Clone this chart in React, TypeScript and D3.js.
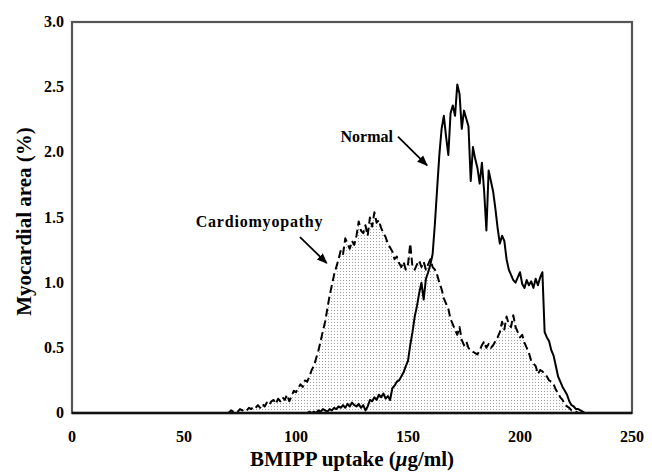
import React from "react";
import * as d3 from "d3";

// ---- data ----
const xTicks = [0, 50, 100, 150, 200, 250];
const yTicks = [0, 0.5, 1.0, 1.5, 2.0, 2.5, 3.0];
const yTickLabels = ["0", "0.5", "1.0", "1.5", "2.0", "2.5", "3.0"];

// Normal: values at uptake = normalStart + i (µg/ml), zero before
const normalStart = 105;
const normalValues = [
  0.0, 0.01, 0.0, 0.01, 0.0, 0.02, 0.01, 0.03, 0.02, 0.01,
  0.03, 0.02, 0.04, 0.03, 0.05, 0.04, 0.06, 0.04, 0.07, 0.05,
  0.08, 0.06, 0.05, 0.07, 0.04, 0.06, 0.02, 0.05, 0.1, 0.09,
  0.12, 0.1, 0.14, 0.12, 0.15, 0.11, 0.13, 0.1, 0.19, 0.21,
  0.24, 0.25, 0.28, 0.31, 0.36, 0.4, 0.52, 0.62, 0.74, 0.82,
  0.92, 1.0, 0.87, 1.03, 1.08, 1.14, 1.22, 1.45, 1.72, 1.98,
  2.18, 2.28, 2.12, 1.98, 2.3, 2.36, 2.28, 2.52, 2.45, 2.18,
  2.32, 2.26, 2.2, 1.78, 2.04, 1.95, 1.88, 1.76, 1.92, 1.7,
  1.4, 1.86, 1.78, 1.7, 1.57, 1.42, 1.3, 1.36, 1.32, 1.18,
  1.1, 1.06, 1.02, 1.0, 1.04, 1.08, 0.99, 0.96, 1.02, 0.98,
  1.01, 0.96, 1.03, 0.98, 1.04, 1.08, 0.62, 0.58, 0.55, 0.48,
  0.44, 0.36, 0.28, 0.24, 0.2, 0.17, 0.14, 0.09, 0.06, 0.05,
  0.03, 0.03, 0.02, 0.01, 0.0,
];

// Cardiomyopathy: values at uptake = cardioStart + i, zero before
const cardioStart = 68;
const cardioValues = [
  0.0, 0.01, 0.0, 0.02, 0.01, 0.02, 0.01, 0.03, 0.02, 0.03,
  0.02, 0.04, 0.03, 0.05, 0.04, 0.06, 0.04, 0.07, 0.05, 0.08,
  0.06, 0.09, 0.1, 0.07, 0.11, 0.09, 0.12, 0.1, 0.14, 0.09,
  0.13, 0.17, 0.16, 0.19, 0.22, 0.2, 0.25, 0.24, 0.28, 0.33,
  0.36, 0.42, 0.48, 0.55, 0.63, 0.7, 0.8, 0.9, 0.98, 1.06,
  1.12, 1.18, 1.25, 1.22, 1.34, 1.3, 1.26, 1.32, 1.29, 1.36,
  1.47, 1.4, 1.38, 1.44, 1.36, 1.5, 1.43, 1.54, 1.46, 1.48,
  1.42, 1.38, 1.35, 1.3, 1.27, 1.24, 1.18, 1.2, 1.15, 1.12,
  1.16, 1.1, 1.14, 1.3, 1.12, 1.1, 1.14, 1.17, 1.12, 1.16,
  1.1, 1.14, 1.18, 1.12, 1.1, 1.06, 1.0, 0.95, 0.88, 0.84,
  0.8, 0.72, 0.68, 0.64, 0.6, 0.66, 0.56, 0.52, 0.55, 0.5,
  0.48, 0.47, 0.46, 0.45, 0.48, 0.52, 0.55, 0.5, 0.53, 0.5,
  0.52, 0.55, 0.58, 0.62, 0.7, 0.64, 0.74, 0.68, 0.66, 0.75,
  0.66, 0.62, 0.58, 0.6, 0.54, 0.5, 0.46, 0.4, 0.38, 0.36,
  0.3, 0.33, 0.32, 0.3, 0.28, 0.25, 0.24, 0.22, 0.18, 0.15,
  0.12, 0.1, 0.07, 0.05, 0.04, 0.02, 0.02, 0.01, 0.0,
];

const W = 652;
const H = 473;
const M = { left: 72, right: 20, top: 22, bottom: 60 };
const FONT = '"Liberation Serif", "Times New Roman", serif';

function toPoints(start: number, vals: number[]): [number, number][] {
  const pts: [number, number][] = [[0, 0]];
  vals.forEach((v, i) => pts.push([start + i, v]));
  return pts;
}

export default function App() {
  const x = d3.scaleLinear().domain([0, 250]).range([M.left, W - M.right]);
  const y = d3.scaleLinear().domain([0, 3]).range([H - M.bottom, M.top]);

  const normalPts = toPoints(normalStart, normalValues);
  const cardioPts = toPoints(cardioStart, cardioValues);

  const line = d3
    .line<[number, number]>()
    .x((d) => x(d[0]))
    .y((d) => y(d[1]));
  const area = d3
    .area<[number, number]>()
    .x((d) => x(d[0]))
    .y0(y(0))
    .y1((d) => y(d[1]));

  const x0 = M.left;
  const x1 = W - M.right;
  const y0 = y(0);
  const y1 = M.top;

  return (
    <svg
      width={W}
      height={H}
      style={{ position: "absolute", left: 0, top: 0, background: "#fff" }}
      fontFamily={FONT}
    >
      <defs>
        <pattern id="stipple" width="3" height="3" patternUnits="userSpaceOnUse">
          <rect width="3" height="3" fill="#fff" />
          <rect x="1" y="1" width="1" height="1" fill="#a0a0a0" />
        </pattern>
        <marker
          id="arrow"
          viewBox="0 0 10 10"
          refX="9"
          refY="5"
          markerWidth="6"
          markerHeight="6"
          orient="auto"
        >
          <path d="M0,1 L10,5 L0,9 z" fill="#000" />
        </marker>
      </defs>

      {/* stippled area under cardiomyopathy */}
      <path d={area(cardioPts) || ""} fill="url(#stipple)" stroke="none" />

      {/* plot frame */}
      <rect
        x={x0}
        y={y1}
        width={x1 - x0}
        height={y0 - y1}
        fill="none"
        stroke="#555"
        strokeWidth={2.2}
      />

      {/* series */}
      <path
        d={line(cardioPts) || ""}
        fill="none"
        stroke="#000"
        strokeWidth={2}
        strokeDasharray="8,4"
        strokeLinejoin="round"
      />
      <path
        d={line(normalPts) || ""}
        fill="none"
        stroke="#000"
        strokeWidth={2}
        strokeLinejoin="round"
      />
      <line x1={x0} x2={x1} y1={y0} y2={y0} stroke="#111" strokeWidth={2.5} />

      {/* y ticks */}
      {yTicks.map((t, i) => (
        <text
          key={"y" + t}
          x={x0 - 8}
          y={y(t) + 5}
          textAnchor="end"
          fontWeight="bold"
          fontSize={16}
        >
          {yTickLabels[i]}
        </text>
      ))}
      {/* x ticks */}
      {xTicks.map((t) => (
        <text
          key={"x" + t}
          x={x(t)}
          y={y0 + 29}
          textAnchor="middle"
          fontWeight="bold"
          fontSize={16}
        >
          {t}
        </text>
      ))}

      {/* axis titles */}
      <text
        x={(x0 + x1) / 2}
        y={H - 7}
        textAnchor="middle"
        fontWeight="bold"
        fontSize={21}
      >
        BMIPP uptake (<tspan fontStyle="italic">μ</tspan>g/ml)
      </text>
      <text
        transform={`translate(31, ${(y0 + y1) / 2 + 4}) rotate(-90)`}
        textAnchor="middle"
        fontWeight="bold"
        fontSize={21}
      >
        Myocardial area (%)
      </text>

      {/* annotations */}
      <text
        x={x(143.3)}
        y={y(2.08)}
        textAnchor="end"
        fontWeight="bold"
        fontSize={16}
      >
        Normal
      </text>
      <line
        x1={x(145.5)}
        y1={y(2.12)}
        x2={x(158.5)}
        y2={y(1.9)}
        stroke="#000"
        strokeWidth={1.8}
        markerEnd="url(#arrow)"
      />
      <text
        x={x(83.7)}
        y={y(1.43)}
        textAnchor="middle"
        fontWeight="bold"
        fontSize={16}
        letterSpacing={0.8}
      >
        Cardiomyopathy
      </text>
      <line
        x1={x(101.8)}
        y1={y(1.35)}
        x2={x(113.7)}
        y2={y(1.15)}
        stroke="#000"
        strokeWidth={1.8}
        markerEnd="url(#arrow)"
      />
    </svg>
  );
}
